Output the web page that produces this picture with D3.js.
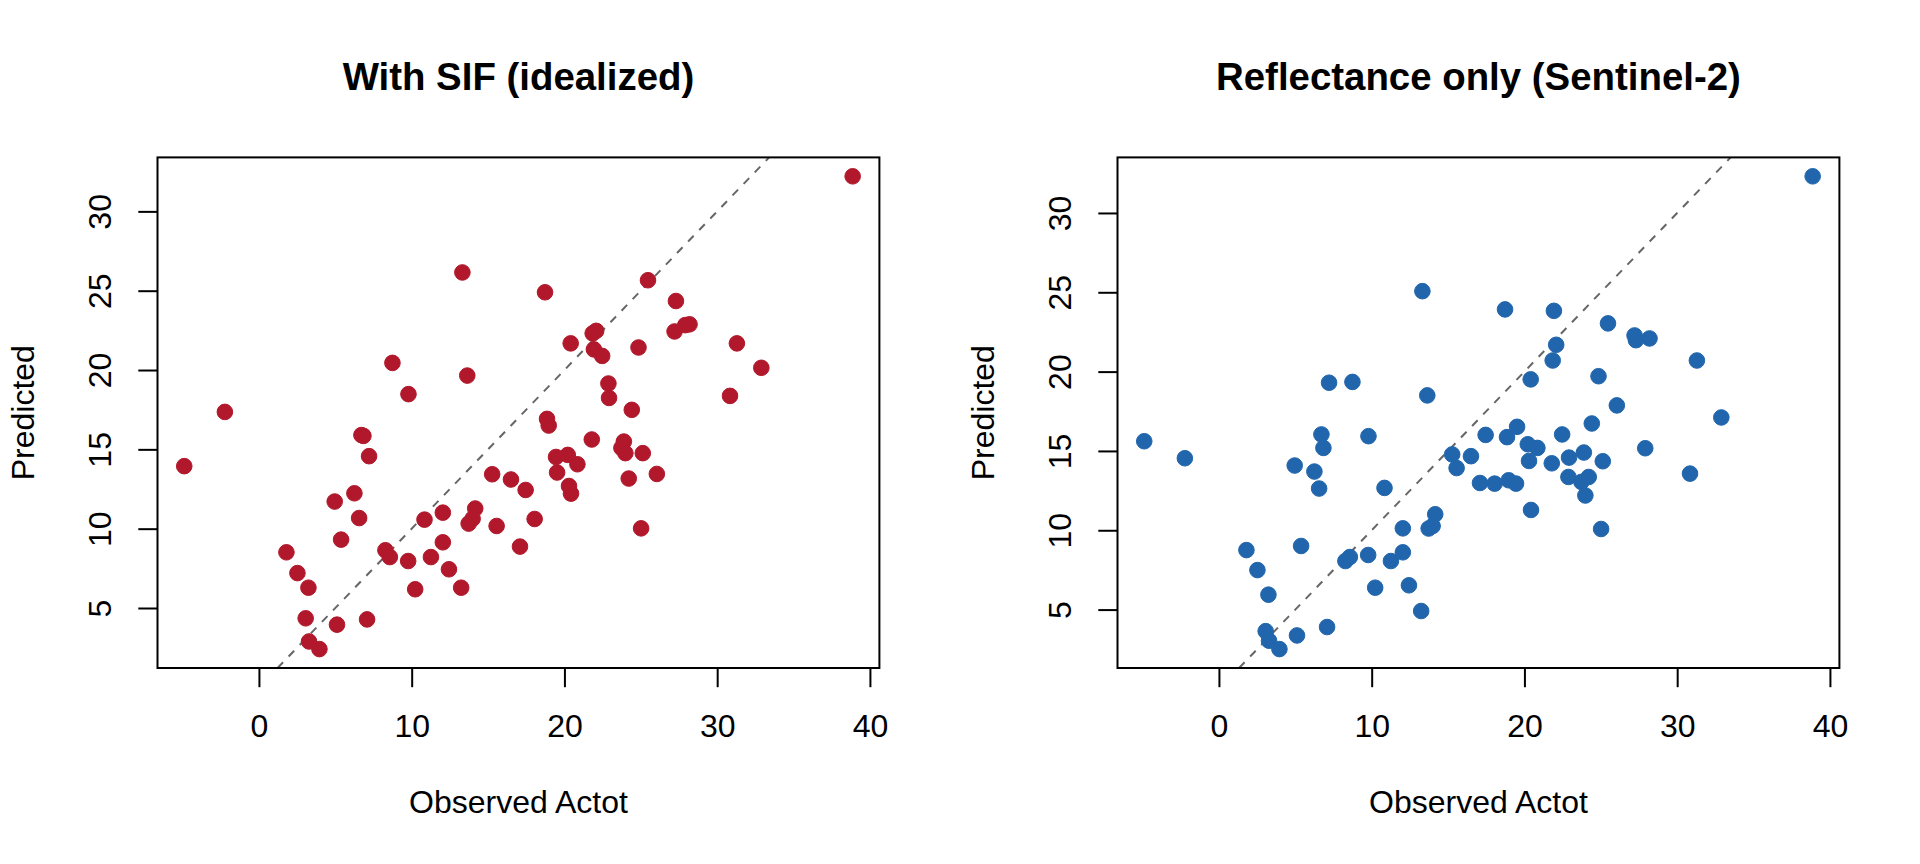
<!DOCTYPE html>
<html>
<head>
<meta charset="utf-8">
<script src="https://cdn.jsdelivr.net/npm/d3@7"></script>
<style>
  body { margin: 0; background: #fff; }
  svg { display: block; }
</style>
</head>
<body>
<svg id="chart" width="1920" height="864"></svg>
<script>
// ---- data ----
const observed = [-4.89, -2.23, 1.80, 2.52, 3.24, 3.06, 3.28, 3.96, 4.96, 5.38, 5.11, 6.25, 6.56, 6.71, 6.84,
  7.21, 7.08, 8.28, 8.57, 8.74, 9.79, 9.77, 10.23, 10.84, 11.26, 12.04, 12.04, 12.44, 13.24, 13.32,
  13.64, 13.73, 13.99, 14.16, 15.27, 15.56, 16.50, 17.09, 17.46, 18.05, 18.73, 18.86, 18.97, 19.45, 19.52,
  20.22, 20.30, 20.43, 20.85, 20.41, 21.79, 21.85, 22.08, 21.93, 22.47, 22.88, 22.92, 23.73, 23.89, 23.99,
  24.21, 24.41, 24.85, 25.13, 25.02, 25.47, 26.05, 27.21, 27.30, 27.91, 28.19, 30.84, 31.29, 32.89, 38.87];

const predictedSIF = [13.94, 17.36, 8.51, 7.20, 6.28, 4.35, 2.89, 2.41, 11.71, 9.31, 3.95, 12.23, 10.67, 15.90, 15.85,
  14.57, 4.28, 8.64, 8.21, 20.45, 18.48, 7.96, 6.18, 10.57, 8.21, 11.01, 9.14, 7.44, 6.28, 26.15,
  19.65, 10.32, 10.63, 11.27, 13.43, 10.17, 13.10, 8.87, 12.44, 10.61, 24.90, 16.92, 16.50, 14.52, 13.54,
  14.65, 12.69, 12.21, 14.06, 21.68, 15.62, 22.31, 22.47, 21.30, 20.89, 19.15, 18.24, 15.09, 15.49, 14.76,
  13.16, 17.49, 21.42, 14.76, 10.02, 25.66, 13.45, 22.43, 24.35, 22.83, 22.88, 18.37, 21.68, 20.14, 32.21];

const predictedRefl = [15.61, 14.54, 8.75, 7.49, 5.94, 3.64, 3.04, 2.51, 14.08, 9.01, 3.37, 13.70, 12.63, 16.04, 15.19,
  19.30, 3.90, 8.06, 8.31, 19.35, 15.93, 8.44, 6.38, 12.67, 8.06, 10.12, 8.61, 6.53, 4.91, 25.07,
  18.50, 10.11, 10.27, 11.01, 14.78, 13.92, 14.67, 12.98, 16.01, 12.94, 23.92, 15.87, 13.15, 12.94, 16.52,
  15.42, 14.37, 11.28, 15.19, 19.51, 14.22, 20.70, 21.69, 23.83, 16.04, 13.36, 14.58, 13.05, 14.90, 12.19,
  13.36, 16.73, 19.71, 14.35, 10.08, 23.04, 17.87, 22.28, 21.98, 15.17, 22.09, 13.57, 20.70, 17.11, 32.31];

const panelTitles = ["With SIF (idealized)", "Reflectance only (Sentinel-2)"];
const panelColors = ["#B2182B", "#2166AC"];
const xTicks = [0, 10, 20, 30, 40];
const yTicks = [5, 10, 15, 20, 25, 30];
const xLabel = "Observed Actot";
const yLabel = "Predicted";

// ---- layout ----
const FONT = '"Liberation Sans", Arial, Helvetica, sans-serif';
const M = { left: 157.5, right: 879.4, top: 157.4, bottom: 668.0 };
const panelW = 960;
const TICK = 19.2;
const svg = d3.select("#chart");

function rExtent(arr) {
  const [a, b] = d3.extent(arr);
  const r = b - a;
  return [a - 0.04 * r, b + 0.04 * r];
}

[predictedSIF, predictedRefl].forEach((pred, i) => {
  const g = svg.append("g").attr("transform", `translate(${i * panelW},0)`);
  const x = d3.scaleLinear().domain(rExtent(observed)).range([M.left, M.right]);
  const y = d3.scaleLinear().domain(rExtent(pred)).range([M.bottom, M.top]);

  // 1:1 dashed line
  const lo = Math.max(x.domain()[0], y.domain()[0]);
  const hi = Math.min(x.domain()[1], y.domain()[1]);
  g.append("line")
    .attr("x1", x(lo)).attr("y1", y(lo))
    .attr("x2", x(hi)).attr("y2", y(hi))
    .attr("stroke", "#666666")
    .attr("stroke-width", 2)
    .attr("stroke-dasharray", "8,8");

  // points
  g.append("g").selectAll("circle")
    .data(observed.map((o, k) => [o, pred[k]]))
    .join("circle")
    .attr("cx", d => x(d[0]))
    .attr("cy", d => y(d[1]))
    .attr("r", 7.8)
    .attr("fill", panelColors[i])
    .attr("stroke", panelColors[i])
    .attr("stroke-width", 1);

  // box
  g.append("rect")
    .attr("x", M.left).attr("y", M.top)
    .attr("width", M.right - M.left).attr("height", M.bottom - M.top)
    .attr("fill", "none").attr("stroke", "#000").attr("stroke-width", 2);

  // x axis
  const xa = g.append("g")
    .attr("transform", `translate(0,${M.bottom})`)
    .call(d3.axisBottom(x).tickValues(xTicks).tickSize(TICK).tickSizeOuter(0).tickFormat(d3.format("d")));
  xa.select(".domain").remove();
  xa.attr("font-family", FONT).attr("font-size", 32);
  xa.selectAll(".tick line").attr("stroke", "#000").attr("stroke-width", 2);
  xa.selectAll(".tick text").attr("y", 68.5).attr("dy", null).attr("fill", "#000");

  // y axis
  const ya = g.append("g")
    .attr("transform", `translate(${M.left},0)`)
    .call(d3.axisLeft(y).tickValues(yTicks).tickSize(TICK).tickSizeOuter(0).tickFormat(d3.format("d")));
  ya.select(".domain").remove();
  ya.attr("font-family", FONT).attr("font-size", 32);
  ya.selectAll(".tick line").attr("stroke", "#000").attr("stroke-width", 2);
  ya.selectAll(".tick text")
    .attr("x", 0).attr("dy", null)
    .attr("text-anchor", "middle")
    .attr("transform", "translate(-46.4,0) rotate(-90)")
    .attr("fill", "#000");

  // title
  g.append("text")
    .attr("x", (M.left + M.right) / 2).attr("y", 89.5)
    .attr("text-anchor", "middle")
    .attr("font-family", FONT).attr("font-size", 38.4).attr("font-weight", "bold")
    .text(panelTitles[i]);

  // axis labels
  g.append("text")
    .attr("x", (M.left + M.right) / 2).attr("y", 812.5)
    .attr("text-anchor", "middle")
    .attr("font-family", FONT).attr("font-size", 32)
    .text(xLabel);
  g.append("text")
    .attr("transform", `translate(34.4,${(M.top + M.bottom) / 2}) rotate(-90)`)
    .attr("text-anchor", "middle")
    .attr("font-family", FONT).attr("font-size", 32)
    .text(yLabel);
});
</script>
</body>
</html>
